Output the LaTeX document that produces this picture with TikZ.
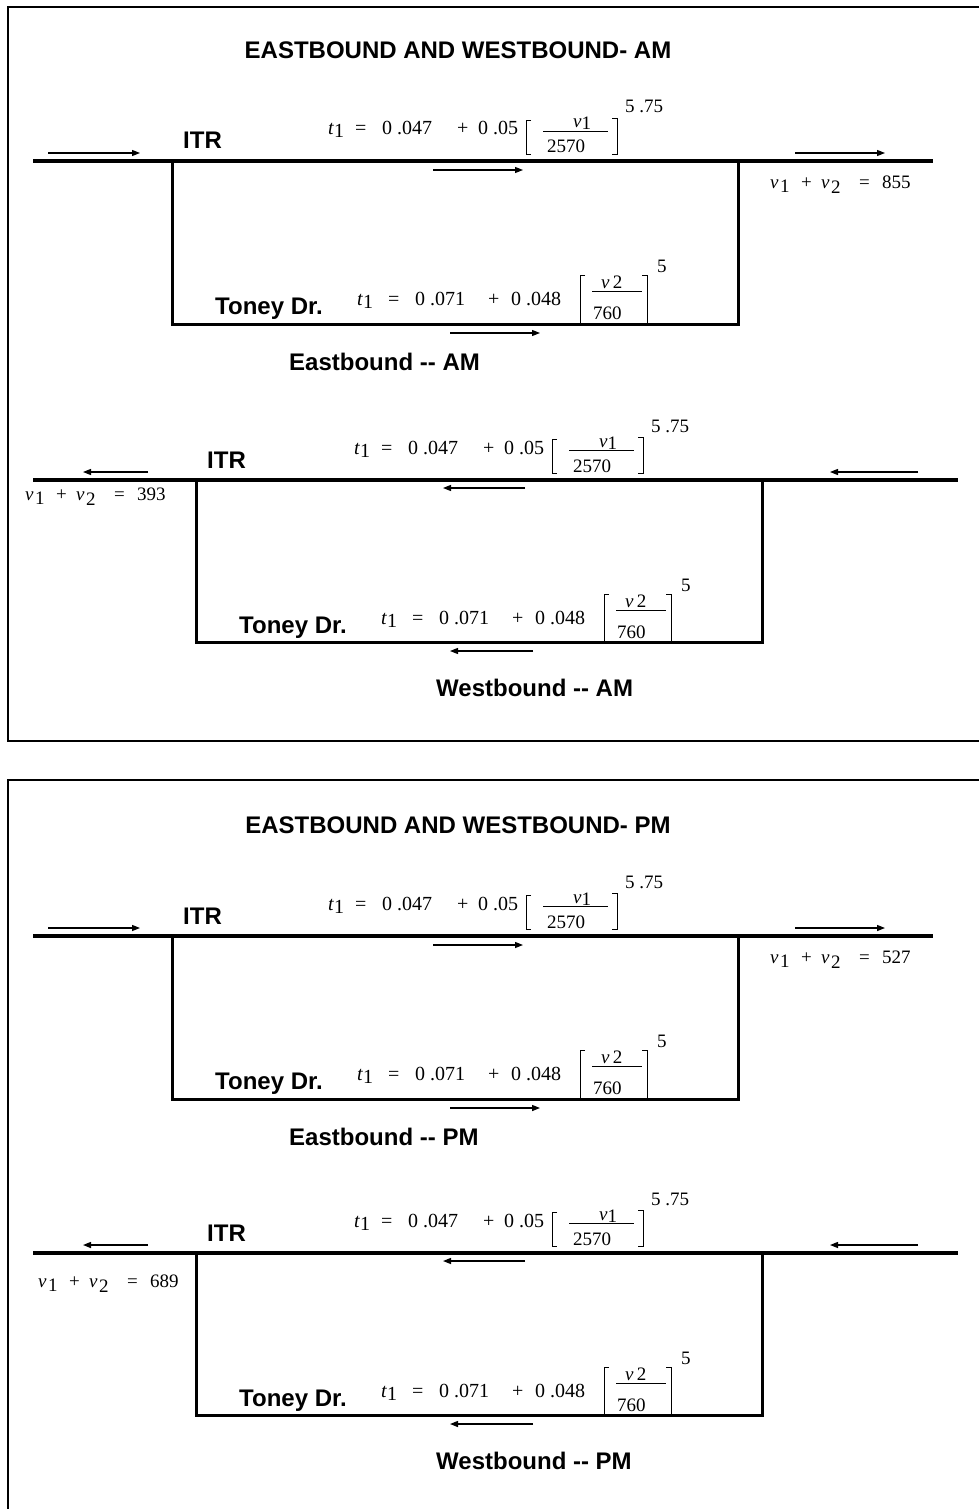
\documentclass[tikz,border=0pt]{standalone}
\usepackage{fontspec}
\usetikzlibrary{arrows.meta}
\newfontfamily\labfont{Liberation Sans}
\newfontfamily\serfont{Liberation Serif}
\tikzset{
  lab/.style={font=\labfont\bfseries\fontsize{24}{28}\selectfont, inner sep=0pt, anchor=base west},
  ttl/.style={font=\labfont\bfseries\fontsize{24}{28}\selectfont, inner sep=0pt, anchor=base},
  fm/.style={font=\serfont\fontsize{20}{24}\selectfont, inner sep=0pt, anchor=base west},
  fs/.style={font=\serfont\fontsize{19}{23}\selectfont, inner sep=0pt, anchor=base west},
  road/.style={line width=4pt},
  loopline/.style={line width=3pt, line join=miter},
  frame/.style={line width=2pt},
  flow/.style={line width=1.3pt, -{Triangle[length=8pt,width=6pt]}},
  brk/.style={line width=0.9pt},
  formA/.pic={
    \node[fm] (-t) at (0,0) {\itshape t};
    \node[fm] (-i) at (6,3) {1};
    \node[fm] (-eq) at (27,0) {=};
    \node[fm] (-a) at (54,0) {0 .047};
    \node[fm] (-p) at (129,0) {+};
    \node[fm] (-b) at (150,0) {0 .05};
    \draw[brk] (203,-15) -- (198,-15) -- (198,19) -- (203,19);
    \draw[brk] (215,-4) -- (280,-4);
    \node[fs] (-n) at (245,-7) {\itshape v\upshape\raisebox{-2pt}{1}};
    \node[fs] (-d) at (219,18) {2570};
    \draw[brk] (284,-17) -- (289,-17) -- (289,19) -- (284,19);
    \node[fs] (-e) at (297,-22) {5 .75};
  },
  formB/.pic={
    \node[fm] (-t) at (0,0) {\itshape t};
    \node[fm] (-i) at (6,3) {1};
    \node[fm] (-eq) at (31,0) {=};
    \node[fm] (-a) at (58,0) {0 .071};
    \node[fm] (-p) at (131,0) {+};
    \node[fm] (-b) at (154,0) {0 .048};
    \draw[brk] (228,-30) -- (223,-30) -- (223,18) -- (228,18);
    \draw[brk] (235,-14) -- (285,-14);
    \node[fs] (-n) at (244,-17) {\itshape v\upshape\,2};
    \node[fs] (-d) at (236,14) {760};
    \draw[brk] (285,-30) -- (290,-30) -- (290,18) -- (285,18);
    \node[fs] (-e) at (300,-33) {5};
  },
  vsum/.pic={
    \node[fs] (-v) at (0,0) {\itshape v};
    \node[fs] (-i) at (10,4) {1};
    \node[fs] (-p) at (31,0) {+};
    \node[fs] (-w) at (51,0) {\itshape v};
    \node[fs] (-j) at (61,5) {2};
    \node[fs] (-eq) at (89,0) {=};
    \node[fs] (-n) at (112,0) {#1};
  }
}
% #1 prefix, #2 road y, #3 sum value, #4 caption
\newcommand\EastBlock[4]{%
  \draw[loopline] (172,#2) -- (172,#2+163) -- (738,#2+163) -- (738,#2);
  \draw[road] (33,#2) -- (933,#2);
  \node[lab] (#1itr) at (183,#2-12) {ITR};
  \node[lab] (#1toney) at (215,#2+153) {Toney Dr.};
  \node[lab] (#1cap) at (289,#2+209) {#4};
  \pic (#1fa) at (328,#2-26) {formA};
  \pic (#1fb) at (357,#2+144) {formB};
  \pic (#1sum) at (770,#2+27) {vsum=#3};
  \draw[flow] (48,#2-8) -- (140,#2-8);
  \draw[flow] (433,#2+9) -- (523,#2+9);
  \draw[flow] (795,#2-8) -- (885,#2-8);
  \draw[flow] (450,#2+172) -- (540,#2+172);
}
% #1 prefix, #2 road y, #3 sum value, #4 sum x, #5 sum dy, #6 caption
\newcommand\WestBlock[6]{%
  \draw[loopline] (196,#2) -- (196,#2+162) -- (762,#2+162) -- (762,#2);
  \draw[road] (33,#2) -- (958,#2);
  \node[lab] (#1itr) at (207,#2-12) {ITR};
  \node[lab] (#1toney) at (239,#2+153) {Toney Dr.};
  \node[lab] (#1cap) at (436,#2+216) {#6};
  \pic (#1fa) at (354,#2-26) {formA};
  \pic (#1fb) at (381,#2+144) {formB};
  \pic (#1sum) at (#4,#2+#5) {vsum=#3};
  \draw[flow] (148,#2-8) -- (83,#2-8);
  \draw[flow] (525,#2+8) -- (443,#2+8);
  \draw[flow] (918,#2-8) -- (830,#2-8);
  \draw[flow] (533,#2+171) -- (450,#2+171);
}
\begin{document}
\begin{tikzpicture}[x=1pt,y=-1pt]
  \useasboundingbox (0,0) rectangle (978,1509);
  \fill[white] (0,0) rectangle (978,1509);
  \draw[frame] (8,7) rectangle (1000,741);
  \draw[frame] (8,780) rectangle (1000,1540);
  \node[ttl] (title1) at (458,59) {EASTBOUND AND WESTBOUND- AM};
  \node[ttl] (title2) at (458,833) {EASTBOUND AND WESTBOUND- PM};
  \EastBlock{ea}{161}{855}{Eastbound -- AM}
  \WestBlock{wa}{480}{393}{25}{20}{Westbound -- AM}
  \EastBlock{ep}{936}{527}{Eastbound -- PM}
  \WestBlock{wp}{1253}{689}{38}{34}{Westbound -- PM}
\end{tikzpicture}
\end{document}
